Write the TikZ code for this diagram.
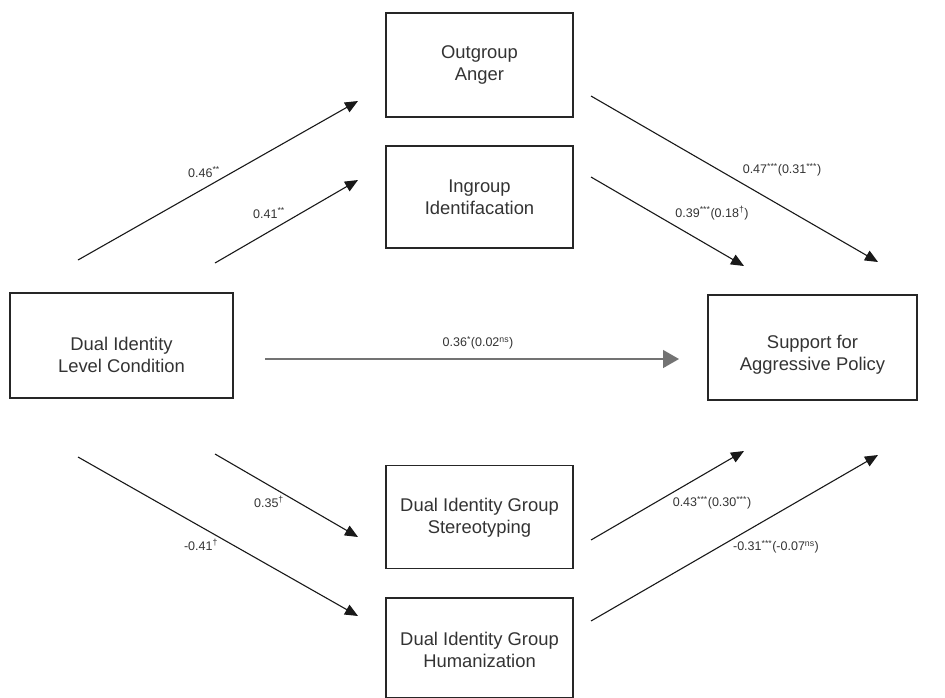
\documentclass[tikz,border=0pt]{standalone}
\usepackage{fontspec}
\setmainfont{Liberation Sans}
\usetikzlibrary{arrows.meta}
\newcommand{\sig}[1]{\textsuperscript{#1}}
\begin{document}
\begin{tikzpicture}[x=1pt,y=-1pt,
  varbox/.style={draw=black!85, line width=1.1pt},
  vartext/.style={align=center, text=black!80, inner sep=0pt,
    font=\fontsize{18.4}{22}\selectfont},
  path/.style={draw=black!90, line width=1.1pt, -{Triangle[length=13pt,width=11pt]}},
  direct/.style={draw=black!55, line width=1.4pt, -{Triangle[length=16pt,width=18pt]}},
  coef/.style={font=\fontsize{12.5}{14}\selectfont, text=black!80, inner sep=0pt}]
\useasboundingbox (0,0) rectangle (945,697);
% variable boxes
\node[varbox, minimum width=187pt, minimum height=104pt] (anger) at (479.5,65) {};
\node[varbox, minimum width=187pt, minimum height=102pt] (ident) at (479.5,197) {};
\node[varbox, minimum width=223pt, minimum height=105pt] (cond) at (121.5,345.5) {};
\node[varbox, minimum width=209pt, minimum height=105pt] (policy) at (812.5,347.5) {};
\node[varbox, minimum width=187pt, minimum height=103pt] (stereo) at (479.5,517) {};
\node[varbox, minimum width=187pt, minimum height=100pt] (human) at (479.5,648) {};
% box captions
\node[vartext] (angerT) at (479.5,65) {Outgroup\\Anger};
\node[vartext] (identT) at (479.5,197.5) {Ingroup\\Identifacation};
\node[vartext] (condT) at (121.5,355) {Dual Identity\\Level Condition};
\node[vartext] (policyT) at (812.5,355) {Support for\\Aggressive Policy};
\node[vartext] (stereoT) at (479.5,518) {Dual Identity Group\\Stereotyping};
\node[vartext] (humanT) at (479.5,650) {Dual Identity Group\\Humanization};
% connector ends (the layout is mirror-symmetric about y = 358.5)
\coordinate (a0) at (78,260);   \coordinate (a1) at (358,101);
\coordinate (i0) at (215,263);  \coordinate (i1) at (358,180);
\coordinate (ao) at (591,96);   \coordinate (a2) at (878,262);
\coordinate (io) at (591,177);  \coordinate (i2) at (744,266);
\coordinate (d0) at (265,359);  \coordinate (d1) at (679,359);
\coordinate (h0) at (78,457);   \coordinate (h1) at (358,616);
\coordinate (s0) at (215,454);  \coordinate (s1) at (358,537);
\coordinate (so) at (591,540);  \coordinate (s2) at (744,451);
\coordinate (ho) at (591,621);  \coordinate (h2) at (878,455);
% paths
\draw[path] (a0) -- (a1);
\draw[path] (i0) -- (i1);
\draw[path] (ao) -- (a2);
\draw[path] (io) -- (i2);
\draw[direct] (d0) -- (d1);
\draw[path] (h0) -- (h1);
\draw[path] (s0) -- (s1);
\draw[path] (so) -- (s2);
\draw[path] (ho) -- (h2);
% coefficients
\node[coef] (ca) at (204,172) {0.46\sig{**}};
\node[coef] (ci) at (269,213) {0.41\sig{**}};
\node[coef] (cap) at (782,170) {0.47\sig{***}(0.31\sig{***})};
\node[coef] (cip) at (712,213) {0.39\sig{***}(0.18\sig{\dag})};
\node[coef] (cd) at (478,343) {0.36\sig{*}(0.02\sig{ns})};
\node[coef] (cs) at (269,502) {0.35\sig{\dag}};
\node[coef] (ch) at (201,545) {-0.41\sig{\dag}};
\node[coef] (csp) at (712,503) {0.43\sig{***}(0.30\sig{***})};
\node[coef] (chp) at (776,547) {-0.31\sig{***}(-0.07\sig{ns})};
\end{tikzpicture}
\end{document}
